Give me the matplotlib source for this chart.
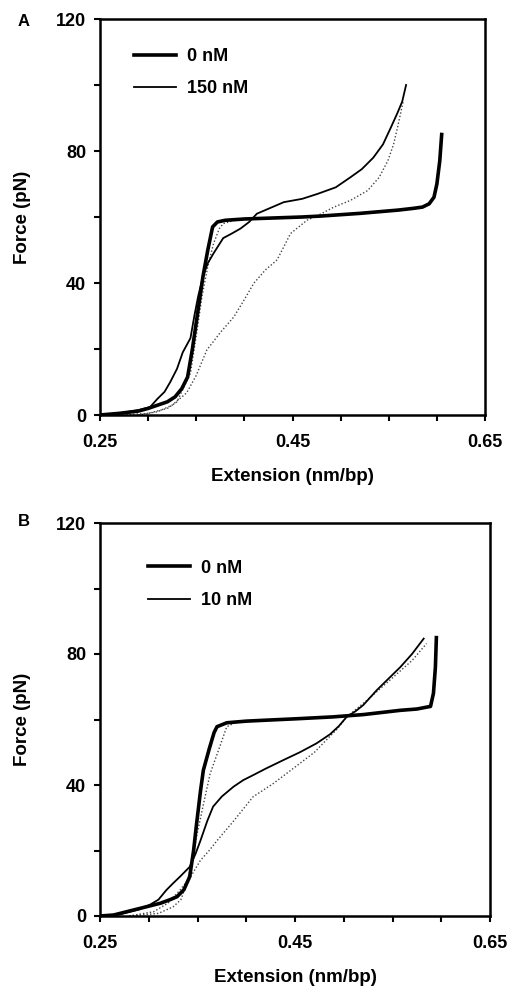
import matplotlib
matplotlib.use("Agg")
import matplotlib.pyplot as plt

plt.rcParams['font.family'] = ['Liberation Sans', 'DejaVu Sans']
plt.rcParams['font.weight'] = 'bold'

# ---- Panel A: 0 nM vs 150 nM ----
a_x0 = [0.25, 0.27, 0.29, 0.30, 0.31, 0.32, 0.328, 0.335, 0.341, 0.346, 0.352, 0.357, 0.362, 0.367,
        0.372, 0.38, 0.40, 0.42, 0.44, 0.46, 0.48, 0.50, 0.52, 0.54, 0.56, 0.575, 0.585, 0.592,
        0.597, 0.600, 0.603, 0.605]
a_y0 = [0, 0.5, 1.2, 2, 3, 4, 5.5, 8, 11.5, 20, 32, 42, 50, 57, 58.5, 59, 59.4, 59.6, 59.8, 60,
        60.3, 60.7, 61.1, 61.6, 62.1, 62.6, 63, 64, 66, 70, 77, 85]

a_x150 = [0.25, 0.27, 0.29, 0.302, 0.31, 0.317, 0.323, 0.33, 0.336, 0.344, 0.348, 0.352, 0.357,
          0.362, 0.368, 0.378, 0.387, 0.396, 0.405, 0.413, 0.425, 0.441, 0.46, 0.476, 0.495,
          0.51, 0.522, 0.534, 0.544, 0.552, 0.559, 0.564, 0.568]
a_y150 = [0, 0.5, 1.5, 2.4, 5, 7, 10, 14, 19, 23.3, 30, 36, 42, 46, 49, 53.6, 55, 56.5, 58.5, 61,
          62.5, 64.5, 65.5, 67, 69, 72, 74.5, 78, 82, 87, 91.5, 95, 100]

a_x150r = [0.29, 0.31, 0.325, 0.34, 0.35, 0.361, 0.375, 0.389, 0.40, 0.41, 0.422, 0.434, 0.448,
           0.465, 0.48, 0.493, 0.51, 0.528, 0.54, 0.549, 0.555, 0.559, 0.562, 0.565]
a_y150r = [0, 1, 3, 6.7, 12, 19.7, 25, 29.7, 35, 40, 44, 47, 55, 59, 61, 63, 65, 68, 72, 77, 82,
           87, 91, 95]

a_x0r = [0.27, 0.30, 0.32, 0.33, 0.344, 0.35, 0.356, 0.362, 0.368, 0.374, 0.378, 0.39]
a_y0r = [0, 0.5, 2, 4, 12.7, 24, 36, 45, 52, 56.5, 58, 59]

# ---- Panel B: 0 nM vs 10 nM ----
b_x0 = [0.25, 0.264, 0.284, 0.30, 0.312, 0.322, 0.329, 0.336, 0.342, 0.346, 0.349, 0.353, 0.356,
        0.362, 0.367, 0.370, 0.38, 0.40, 0.421, 0.45, 0.489, 0.52, 0.558, 0.575, 0.589, 0.592,
        0.594, 0.595]
b_y0 = [0, 0.3, 1.8, 3, 3.9, 5, 5.9, 8, 12, 20, 28, 38, 44.5, 51, 56, 57.8, 59, 59.5, 59.8, 60.2,
        60.8, 61.5, 62.8, 63.2, 64, 68, 76, 85]

b_x10 = [0.25, 0.27, 0.29, 0.301, 0.31, 0.318, 0.325, 0.332, 0.342, 0.348, 0.353, 0.36, 0.366,
         0.375, 0.387, 0.397, 0.407, 0.42, 0.438, 0.455, 0.472, 0.486, 0.495, 0.503, 0.512,
         0.52, 0.534, 0.546, 0.558, 0.57, 0.582]
b_y10 = [0, 0.5, 2, 3.4, 5, 7.9, 10, 12, 15, 19, 23, 29, 33.4, 36.5, 39.5, 41.5, 43, 45, 47.6,
         50, 52.7, 55.5, 58, 60.8, 62.5, 64.4, 69, 72.5, 76, 80, 84.7]

b_x10r = [0.28, 0.305, 0.32, 0.332, 0.343, 0.353, 0.362, 0.370, 0.387, 0.407, 0.428, 0.455,
          0.47, 0.482, 0.493, 0.503, 0.524, 0.551, 0.57, 0.585]
b_y10r = [0, 1.3, 4, 7.9, 12, 17, 20, 23, 29, 36.4, 40.5, 46.6, 50, 53.7, 57, 60.8, 65.9, 73,
          78, 83.2]

b_x0r = [0.28, 0.31, 0.325, 0.333, 0.339, 0.345, 0.349, 0.356, 0.363, 0.372, 0.380, 0.39]
b_y0r = [0, 0.8, 2.8, 5, 10, 17, 24.2, 34, 43.5, 51, 57.8, 59.2]

x_ticks = [0.25, 0.30, 0.35, 0.40, 0.45, 0.50, 0.55, 0.60, 0.65]
x_ticklabels = ['0.25', '', '', '', '0.45', '', '', '', '0.65']
y_ticks = [0, 20, 40, 60, 80, 100, 120]
y_ticklabels = ['0', '', '40', '', '80', '', '120']

fig = plt.figure(figsize=(5.11, 9.86), dpi=100)
axA = fig.add_axes([100 / 511, 1 - 415 / 986, 385 / 511, 396 / 986])
axB = fig.add_axes([100 / 511, 1 - 916 / 986, 390 / 511, 393 / 986])


def draw(ax, x0, y0, xc, yc, x0r, y0r, xcr, ycr, label_c, leg_pos):
    # release curves: fine dotted grey
    ax.plot(x0r, y0r, ls=(0, (1, 1.5)), lw=1.0, color='#444444')
    ax.plot(xcr, ycr, ls=(0, (1, 1.5)), lw=1.0, color='#444444')
    ax.plot(xc, yc, lw=1.3, color='black', label=label_c)
    ax.plot(x0, y0, lw=2.6, color='black', label='0 nM')
    h, l = ax.get_legend_handles_labels()
    ax.legend(h[::-1], l[::-1], loc='upper left', bbox_to_anchor=leg_pos, frameon=False,
              handlelength=2.3, handletextpad=0.6, labelspacing=0.85, borderaxespad=0,
              prop={'size': 13, 'weight': 'bold'})
    ax.set_xlim(0.25, 0.65)
    ax.set_ylim(0, 120)
    ax.set_xticks(x_ticks)
    ax.set_xticklabels(x_ticklabels)
    ax.set_yticks(y_ticks)
    ax.set_yticklabels(y_ticklabels)
    ax.tick_params(direction='out', length=4, width=1.5, labelsize=13, pad=6)
    ax.tick_params(axis='x', pad=10)
    for s in ax.spines.values():
        s.set_linewidth(1.8)
    ax.set_xlabel('Extension (nm/bp)', fontsize=13.5, fontweight='bold', labelpad=12)
    ax.set_ylabel('Force (pN)', fontsize=13.5, fontweight='bold', labelpad=18)


draw(axA, a_x0, a_y0, a_x150, a_y150, a_x0r, a_y0r, a_x150r, a_y150r, '150 nM', (0.07, 0.945))
draw(axB, b_x0, b_y0, b_x10, b_y10, b_x0r, b_y0r, b_x10r, b_y10r, '10 nM', (0.105, 0.925))

fig.text(24 / 511, 1 - 21 / 986, 'A', fontsize=12, fontweight='bold', ha='center', va='center')
fig.text(24 / 511, 1 - 522 / 986, 'B', fontsize=12, fontweight='bold', ha='center', va='center')

fig.savefig('out.png', dpi=100)
